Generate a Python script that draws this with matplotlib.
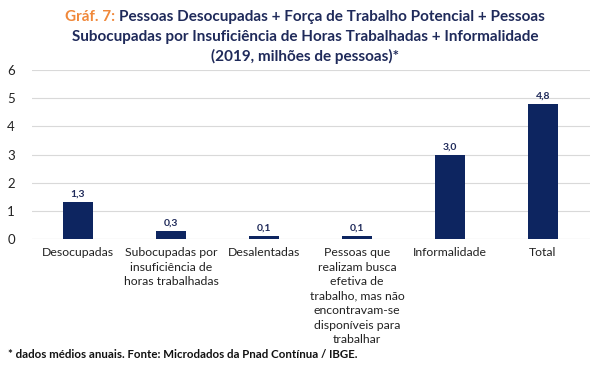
import matplotlib
matplotlib.use("Agg")
import matplotlib.pyplot as plt

categories = ["Desocupadas", "Subocupadas por\ninsuficiência de\nhoras trabalhadas", "Desalentadas",
              "Pessoas que\nrealizam busca\nefetiva de\ntrabalho, mas não\nencontravam-se\ndisponíveis para\ntrabalhar",
              "Informalidade", "Total"]
values = [1.3, 0.3, 0.1, 0.1, 3.0, 4.8]
labels = ["1,3", "0,3", "0,1", "0,1", "3,0", "4,8"]
yticks = [0, 1, 2, 3, 4, 5, 6]

navy = "#0d2560"
title_col = "#1f2a5a"
orange = "#f0883a"
plt.rcParams['font.family'] = ['Lato', 'DejaVu Sans']

fig = plt.figure(figsize=(6, 3.73), dpi=100)
ax = fig.add_axes([0.0525, 0.359, 0.93, 0.453])
x = list(range(len(categories)))
ax.bar(x, values, width=0.33, color=navy, zorder=3)
for xi, v, l in zip(x, values, labels):
    ax.text(xi, v + 0.12, l, ha='center', va='bottom', fontsize=7.5, fontweight='bold', color=title_col)
ax.set_xlim(-0.5, 5.5)
ax.set_ylim(0, 6)
ax.set_yticks(yticks)
ax.set_yticklabels([str(t) for t in yticks], fontsize=9.5, color="#222222")
ax.set_xticks(x)
ax.set_xticklabels(categories, fontsize=8.8, color="#222222", linespacing=1.38, va='top')
ax.tick_params(axis='both', length=0)
ax.tick_params(axis='y', pad=12)
ax.tick_params(axis='x', pad=6)
ax.grid(axis='y', color="#d9d9d9", linewidth=0.8, zorder=0)
for s in ax.spines.values():
    s.set_visible(False)
ax.axhline(0, color="#d9d9d9", linewidth=0.8, zorder=1)

# Title
r = fig.canvas.get_renderer()
tfs = 11
part1 = "Gráf. 7: "
part2 = "Pessoas Desocupadas + Força de Trabalho Potencial + Pessoas"
cx = 0.508
t1 = fig.text(0, 0, part1, fontsize=tfs, fontweight='bold', color=orange)
t2 = fig.text(0, 0, part2, fontsize=tfs, fontweight='bold', color=title_col)
w1 = t1.get_window_extent(r).width / fig.bbox.width
w2 = t2.get_window_extent(r).width / fig.bbox.width
start = cx - (w1 + w2) / 2
y1 = 1 - 17 / 373
t1.set_position((start, y1)); t1.set_va('center')
t2.set_position((start + w1, y1)); t2.set_va('center')
fig.text(cx, 1 - 37 / 373, "Subocupadas por Insuficiência de Horas Trabalhadas + Informalidade",
         fontsize=tfs, fontweight='bold', color=title_col, ha='center', va='center')
fig.text(cx, 1 - 56 / 373, "(2019, milhões de pessoas)*",
         fontsize=tfs, fontweight='bold', color=title_col, ha='center', va='center')

fig.text(8 / 600, 1 - 354 / 373, "* dados médios anuais. Fonte: Microdados da Pnad Contínua / IBGE.",
         fontsize=8.3, fontweight='bold', color="#111111", ha='left', va='center')

fig.savefig("out.png", dpi=100, facecolor='white')
